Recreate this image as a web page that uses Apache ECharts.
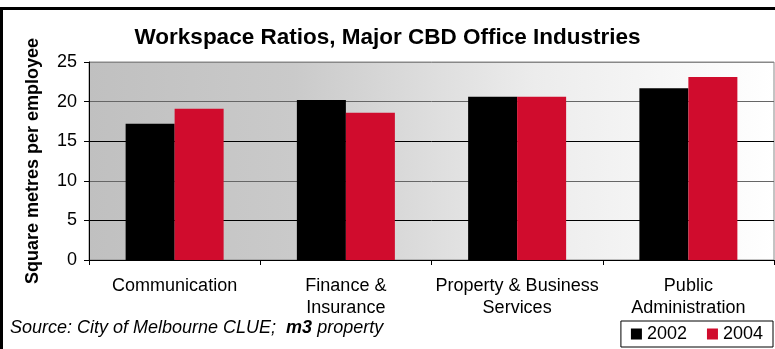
<!DOCTYPE html>
<html>
<head>
<meta charset="utf-8">
<script src="https://cdn.jsdelivr.net/npm/echarts@6/dist/echarts.min.js"></script>
<style>
  html, body { margin: 0; padding: 0; background: #fff; }
  #inf { width: 775px; height: 349px; }
</style>
</head>
<body>
<div id="inf"></div>
<script>
  var industries = ['Communication', 'Finance &\nInsurance', 'Property & Business\nServices', 'Public\nAdministration'];
  var years = ['2002', '2004'];
  var ratio2002 = [17.2, 20.2, 20.6, 21.7];
  var ratio2004 = [19.1, 18.6, 20.6, 23.1];

  var dom = document.getElementById("inf");
  var myChart = echarts.init(dom);
  var font = 'Liberation Sans, Arial, sans-serif';

  var option = {
    animation: false,
    textStyle: {
      fontFamily: font,
      color: '#000'
    },
    title: {
      text: 'Workspace Ratios, Major CBD Office Industries',
      left: 'center',
      top: 21,
      textStyle: {
        fontFamily: font,
        fontSize: 22.5,
        fontWeight: 'bold',
        color: '#000'
      }
    },
    legend: {
      data: years,
      right: 2,
      bottom: 2,
      orient: 'horizontal',
      icon: 'rect',
      itemWidth: 11,
      itemHeight: 11,
      itemGap: 20,
      padding: [4, 10],
      borderColor: '#000',
      borderWidth: 1,
      textStyle: {
        fontFamily: font,
        fontSize: 18,
        color: '#000'
      }
    },
    grid: {
      left: 89,
      right: 1,
      top: 62,
      bottom: 89,
      show: true,
      borderColor: '#888',
      borderWidth: 1,
      backgroundColor: new echarts.graphic.LinearGradient(0, 0, 1, 0, [
        { offset: 0, color: '#c0c0c0' },
        { offset: 0.3, color: '#cacaca' },
        { offset: 0.65, color: '#ececec' },
        { offset: 1, color: '#ffffff' }
      ])
    },
    xAxis: {
      type: 'category',
      data: industries,
      axisLine: { lineStyle: { color: '#000', width: 1 } },
      axisTick: { show: true, length: 5, lineStyle: { color: '#000' } },
      axisLabel: {
        fontFamily: font,
        fontSize: 18,
        lineHeight: 22,
        color: '#000',
        margin: 15,
        interval: 0
      }
    },
    yAxis: {
      type: 'value',
      min: 0,
      max: 25,
      interval: 5,
      name: 'Square metres per employee',
      nameLocation: 'middle',
      nameGap: 47,
      nameTextStyle: {
        fontFamily: font,
        fontSize: 18,
        fontWeight: 'bold',
        color: '#000'
      },
      axisLine: { show: true, lineStyle: { color: '#000', width: 1 } },
      axisTick: { show: true, length: 5, lineStyle: { color: '#000' } },
      axisLabel: {
        fontFamily: font,
        fontSize: 18,
        color: '#000',
        margin: 12
      },
      splitLine: {
        show: true,
        lineStyle: {
          color: ['#000', '#000', '#666', '#000', '#666', '#888'],
          width: 1
        }
      }
    },
    graphic: [
      {
        type: 'rect',
        shape: { x: 1.5, y: 8.5, width: 820, height: 400 },
        style: { fill: null, stroke: '#000', lineWidth: 3 },
        silent: true
      },
      {
        type: 'text',
        left: 10,
        top: 319,
        style: {
          text: 'Source: City of Melbourne CLUE;  {b|m3} property',
          font: 'italic 18px Liberation Sans, Arial, sans-serif',
          fill: '#000',
          rich: {
            b: {
              fontFamily: font,
              fontSize: 18,
              fontStyle: 'italic',
              fontWeight: 'bold',
              fill: '#000'
            }
          }
        }
      }
    ],
    series: [
      {
        name: '2002',
        type: 'bar',
        data: ratio2002,
        barWidth: 49,
        barGap: '0%',
        itemStyle: { color: '#000000' }
      },
      {
        name: '2004',
        type: 'bar',
        data: ratio2004,
        barWidth: 49,
        barGap: '0%',
        itemStyle: { color: '#d00c2d' }
      }
    ]
  };

  if (option && typeof option === "object") {
    myChart.setOption(option, true);
  }
</script>
</body>
</html>
